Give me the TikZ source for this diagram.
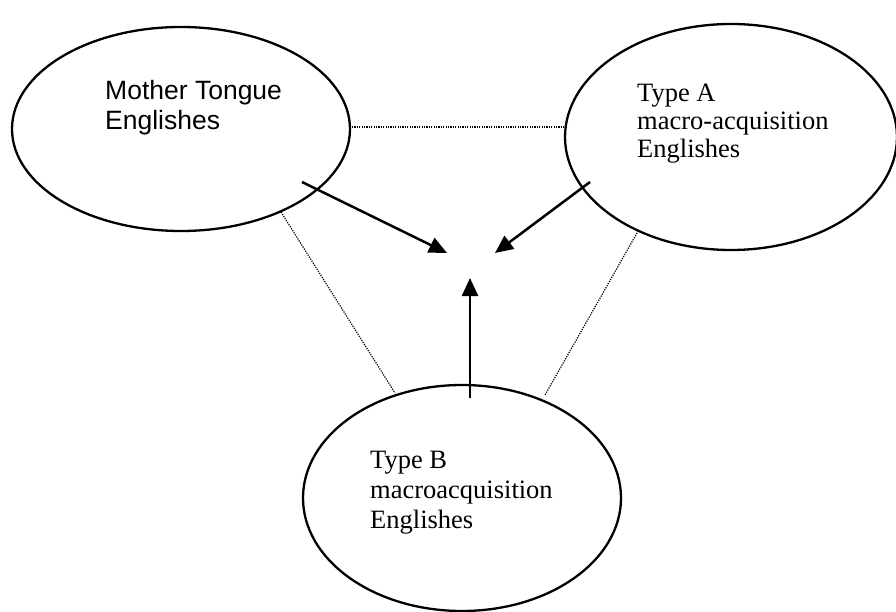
\documentclass[tikz,border=0pt]{standalone}
\usepackage{fontspec}
\setmainfont{Liberation Serif}
\newfontfamily\arialfont{Liberation Sans}
\usetikzlibrary{shapes.geometric,arrows.meta}
\begin{document}
\begin{tikzpicture}[x=1pt,y=-1pt,
  oval/.style={draw, ellipse, line width=2.3pt, inner sep=0pt},
  lbl/.style={anchor=base west, inner sep=0pt, font=\fontsize{26.5}{30}\selectfont},
  flow/.style={line width=2.5pt, -{Triangle[length=18pt,width=16pt]}},
  link/.style={line width=1.2pt, dash pattern=on 1.2pt off 1.2pt}]
\useasboundingbox (0,0) rectangle (896,612);
\node[oval, minimum width=338pt, minimum height=204pt] (mt) at (181,129) {};
\node[oval, minimum width=332pt, minimum height=226pt] (ta) at (731,137) {};
\node[oval, minimum width=318pt, minimum height=226pt] (tb) at (462,498) {};
\node[lbl, font=\arialfont\fontsize{26.5}{30}\selectfont] (mt1) at (105,100) {Mother Tongue};
\node[lbl, font=\arialfont\fontsize{26.5}{30}\selectfont] (mt2) at (105,130) {Englishes};
\node[lbl] (ta1) at (637,102) {Type A};
\node[lbl] (ta2) at (637,130) {macro-acquisition};
\node[lbl] (ta3) at (637,158) {Englishes};
\node[lbl] (tb1) at (370,468) {Type B};
\node[lbl] (tb2) at (370,498) {macroacquisition};
\node[lbl] (tb3) at (370,528) {Englishes};
% connector ends
\coordinate (h1) at (352,127);
\coordinate (h2) at (566,127);
\coordinate (l1) at (281,212);
\coordinate (l2) at (395,393);
\coordinate (r1) at (637,233);
\coordinate (r2) at (545,395);
\coordinate (a1) at (302,182);
\coordinate (a1t) at (447,253);
\coordinate (a2) at (590,182);
\coordinate (a2t) at (495,253);
\coordinate (a3) at (470,398);
\coordinate (a3t) at (470,278);
\draw[link] (h1) -- (h2);
\draw[link] (l1) -- (l2);
\draw[link] (r1) -- (r2);
\draw[flow] (a1) -- (a1t);
\draw[flow] (a2) -- (a2t);
\draw[flow] (a3) -- (a3t);
\end{tikzpicture}
\end{document}
